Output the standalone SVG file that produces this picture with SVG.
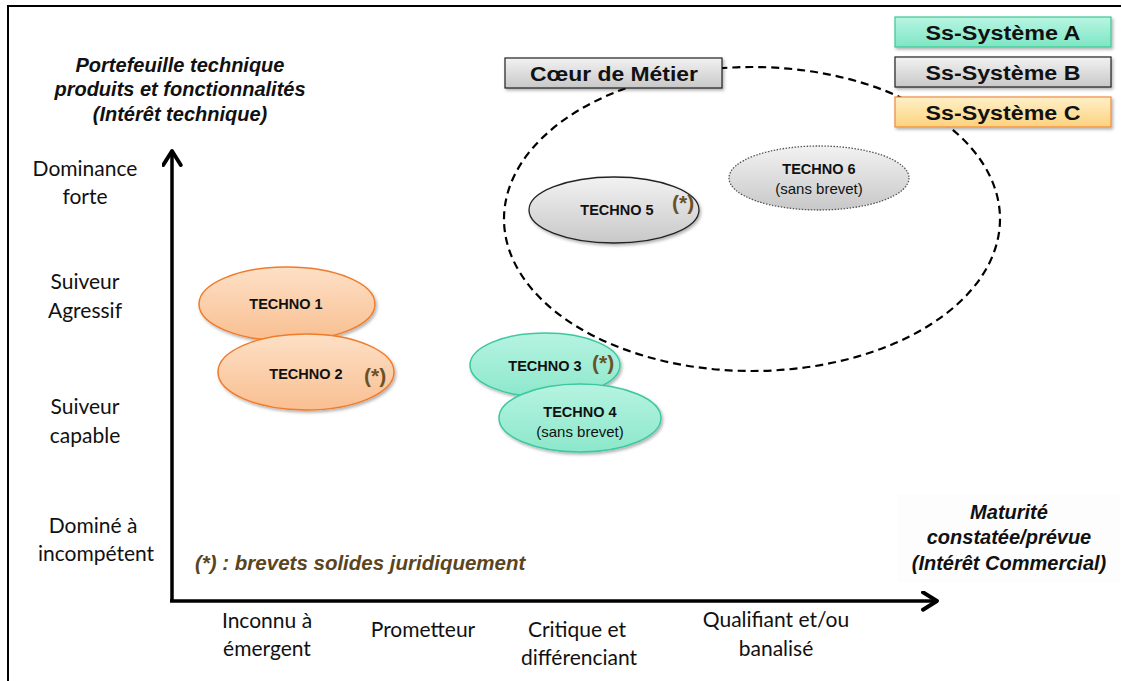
<svg xmlns="http://www.w3.org/2000/svg" width="1122" height="681" viewBox="0 0 1122 681">
  <defs>
    <linearGradient id="gOrange" x1="0" y1="0" x2="0" y2="1">
      <stop offset="0" stop-color="#fde0c6"/>
      <stop offset="1" stop-color="#f9bf91"/>
    </linearGradient>
    <linearGradient id="gTeal" x1="0" y1="0" x2="0" y2="1">
      <stop offset="0" stop-color="#b6f3e0"/>
      <stop offset="1" stop-color="#8ce8cb"/>
    </linearGradient>
    <linearGradient id="gGrey" x1="0" y1="0" x2="0" y2="1">
      <stop offset="0" stop-color="#f2f2f2"/>
      <stop offset="1" stop-color="#c8c8c8"/>
    </linearGradient>
    <linearGradient id="gBoxA" x1="0" y1="0" x2="0" y2="1">
      <stop offset="0" stop-color="#b8f5e2"/>
      <stop offset="1" stop-color="#7ee6c4"/>
    </linearGradient>
    <linearGradient id="gBoxC" x1="0" y1="0" x2="0" y2="1">
      <stop offset="0" stop-color="#fff0c8"/>
      <stop offset="1" stop-color="#fcd27e"/>
    </linearGradient>
    <marker id="arrow" viewBox="0 0 12 12" refX="9" refY="6" markerWidth="6" markerHeight="6" orient="auto" markerUnits="strokeWidth">
      <path d="M1,1 L9,6 L1,11" fill="none" stroke="#000" stroke-width="2.2" stroke-linecap="round" stroke-linejoin="round"/>
    </marker>
    <filter id="shadow" x="-10%" y="-10%" width="130%" height="140%">
      <feDropShadow dx="1.5" dy="2" stdDeviation="1.5" flood-color="#000" flood-opacity="0.3"/>
    </filter>
  </defs>
  <style>
    .axisLbl { font-family: Lato, "Open Sans", sans-serif; font-size: 21px; fill: #111; text-anchor: middle; }
    .title { font-family: "Liberation Sans", Arial, sans-serif; font-size: 20px; font-weight: bold; font-style: italic; fill: #111; text-anchor: middle; }
    .tech { font-family: "Liberation Sans", Arial, sans-serif; font-size: 14.5px; font-weight: bold; fill: #111; text-anchor: middle; }
    .techSub { font-family: "Liberation Sans", Arial, sans-serif; font-size: 15px; fill: #111; text-anchor: middle; }
    .star { font-family: "Liberation Sans", Arial, sans-serif; font-size: 21px; font-weight: bold; fill: #6b5226; }
    .boxLbl { font-family: "Liberation Sans", Arial, sans-serif; font-size: 20px; font-weight: bold; fill: #111; text-anchor: middle; }
    .note { font-family: "Liberation Sans", Arial, sans-serif; font-size: 20.5px; font-weight: bold; font-style: italic; fill: #5a4520; }
  </style>

  <rect width="1122" height="681" fill="#fff"/>
  <!-- outer frame -->
  <path d="M8,681 V6 H1121" fill="none" stroke="#000" stroke-width="2"/>

  <!-- axis titles -->
  <g id="y-title">
    <text class="title" x="180" y="72">Portefeuille technique</text>
    <text class="title" x="180" y="96">produits et fonctionnalités</text>
    <text class="title" x="180" y="121">(Intérêt technique)</text>
  </g>
  <g id="x-title">
    <rect x="898" y="494" width="222" height="88" fill="#fdfdfd"/>
    <text class="title" x="1009" y="519">Maturité</text>
    <text class="title" x="1009" y="544">constatée/prévue</text>
    <text class="title" x="1009" y="570">(Intérêt Commercial)</text>
  </g>

  <!-- y axis levels -->
  <g id="y-levels">
    <text class="axisLbl" x="85" y="176">Dominance</text>
    <text class="axisLbl" x="85" y="204">forte</text>
    <text class="axisLbl" x="85" y="289">Suiveur</text>
    <text class="axisLbl" x="85" y="318">Agressif</text>
    <text class="axisLbl" x="85" y="414">Suiveur</text>
    <text class="axisLbl" x="85" y="443">capable</text>
    <text class="axisLbl" x="93" y="533">Dominé à</text>
    <text class="axisLbl" x="96" y="561">incompétent</text>
  </g>

  <!-- x axis levels -->
  <g id="x-levels">
    <text class="axisLbl" x="267" y="628">Inconnu à</text>
    <text class="axisLbl" x="267" y="656">émergent</text>
    <text class="axisLbl" x="423" y="637">Prometteur</text>
    <text class="axisLbl" x="577" y="637">Critique et</text>
    <text class="axisLbl" x="579" y="665">différenciant</text>
    <text class="axisLbl" x="776" y="627">Qualifiant et/ou</text>
    <text class="axisLbl" x="776" y="656">banalisé</text>
  </g>

  <!-- axes and dashed boundary -->
  <g id="connectors" fill="none" stroke="#000">
    <line x1="172" y1="601" x2="172" y2="151" stroke-width="3.5" marker-end="url(#arrow)"/>
    <line x1="170" y1="601" x2="937" y2="601" stroke-width="3.5" marker-end="url(#arrow)"/>
    <ellipse id="coeur-zone" cx="752" cy="219" rx="248" ry="152" stroke-width="2.2" stroke-dasharray="8,5"/>
  </g>

  <!-- legend boxes -->
  <g id="box-coeur">
    <rect x="505" y="58" width="217" height="30" fill="url(#gGrey)" stroke="#222" stroke-width="1.2" filter="url(#shadow)"/>
    <text class="boxLbl" x="614" y="81" textLength="168" lengthAdjust="spacingAndGlyphs">Cœur de Métier</text>
  </g>
  <g id="box-ssA">
    <rect x="895" y="17" width="216" height="30" fill="url(#gBoxA)" stroke="#3cc894" stroke-width="1.2" filter="url(#shadow)"/>
    <text class="boxLbl" x="1003" y="40" textLength="155" lengthAdjust="spacingAndGlyphs">Ss-Système A</text>
  </g>
  <g id="box-ssB">
    <rect x="895" y="57" width="216" height="30" fill="url(#gGrey)" stroke="#222" stroke-width="1.2" filter="url(#shadow)"/>
    <text class="boxLbl" x="1003" y="80" textLength="155" lengthAdjust="spacingAndGlyphs">Ss-Système B</text>
  </g>
  <g id="box-ssC">
    <rect x="895" y="97" width="216" height="30" fill="url(#gBoxC)" stroke="#f08a3c" stroke-width="1.2" filter="url(#shadow)"/>
    <text class="boxLbl" x="1003" y="120" textLength="155" lengthAdjust="spacingAndGlyphs">Ss-Système C</text>
  </g>

  <!-- technologies -->
  <g id="techno1">
    <ellipse cx="287" cy="304" rx="88" ry="37" fill="url(#gOrange)" stroke="#f07c2c" stroke-width="1.5" filter="url(#shadow)"/>
    <text class="tech" x="286" y="309">TECHNO 1</text>
  </g>
  <g id="techno2">
    <ellipse cx="306" cy="372" rx="88" ry="38" fill="url(#gOrange)" stroke="#f07c2c" stroke-width="1.5" filter="url(#shadow)"/>
    <text class="tech" x="306" y="379">TECHNO 2</text>
    <text class="star" x="364" y="383">(*)</text>
  </g>
  <g id="techno3">
    <ellipse cx="545" cy="365" rx="75" ry="32" fill="url(#gTeal)" stroke="#3cc8a0" stroke-width="1.5" filter="url(#shadow)"/>
    <text class="tech" x="545" y="371">TECHNO 3</text>
    <text class="star" x="592" y="370">(*)</text>
  </g>
  <g id="techno4">
    <ellipse cx="580" cy="418" rx="81" ry="34" fill="url(#gTeal)" stroke="#3cc8a0" stroke-width="1.5" filter="url(#shadow)"/>
    <text class="tech" x="580" y="417">TECHNO 4</text>
    <text class="techSub" x="580" y="437">(sans brevet)</text>
  </g>
  <g id="techno5">
    <ellipse cx="614" cy="210" rx="85" ry="33" fill="url(#gGrey)" stroke="#222" stroke-width="1.3" filter="url(#shadow)"/>
    <text class="tech" x="617" y="215">TECHNO 5</text>
    <text class="star" x="672" y="210">(*)</text>
  </g>
  <g id="techno6">
    <ellipse cx="819" cy="178" rx="90" ry="32" fill="url(#gGrey)" stroke="#555" stroke-width="1.3" stroke-dasharray="1.5,1.5"/>
    <text class="tech" x="819" y="174">TECHNO 6</text>
    <text class="techSub" x="819" y="194">(sans brevet)</text>
  </g>

  <!-- footnote -->
  <text class="note" x="195" y="570">(*) : brevets solides juridiquement</text>
</svg>
